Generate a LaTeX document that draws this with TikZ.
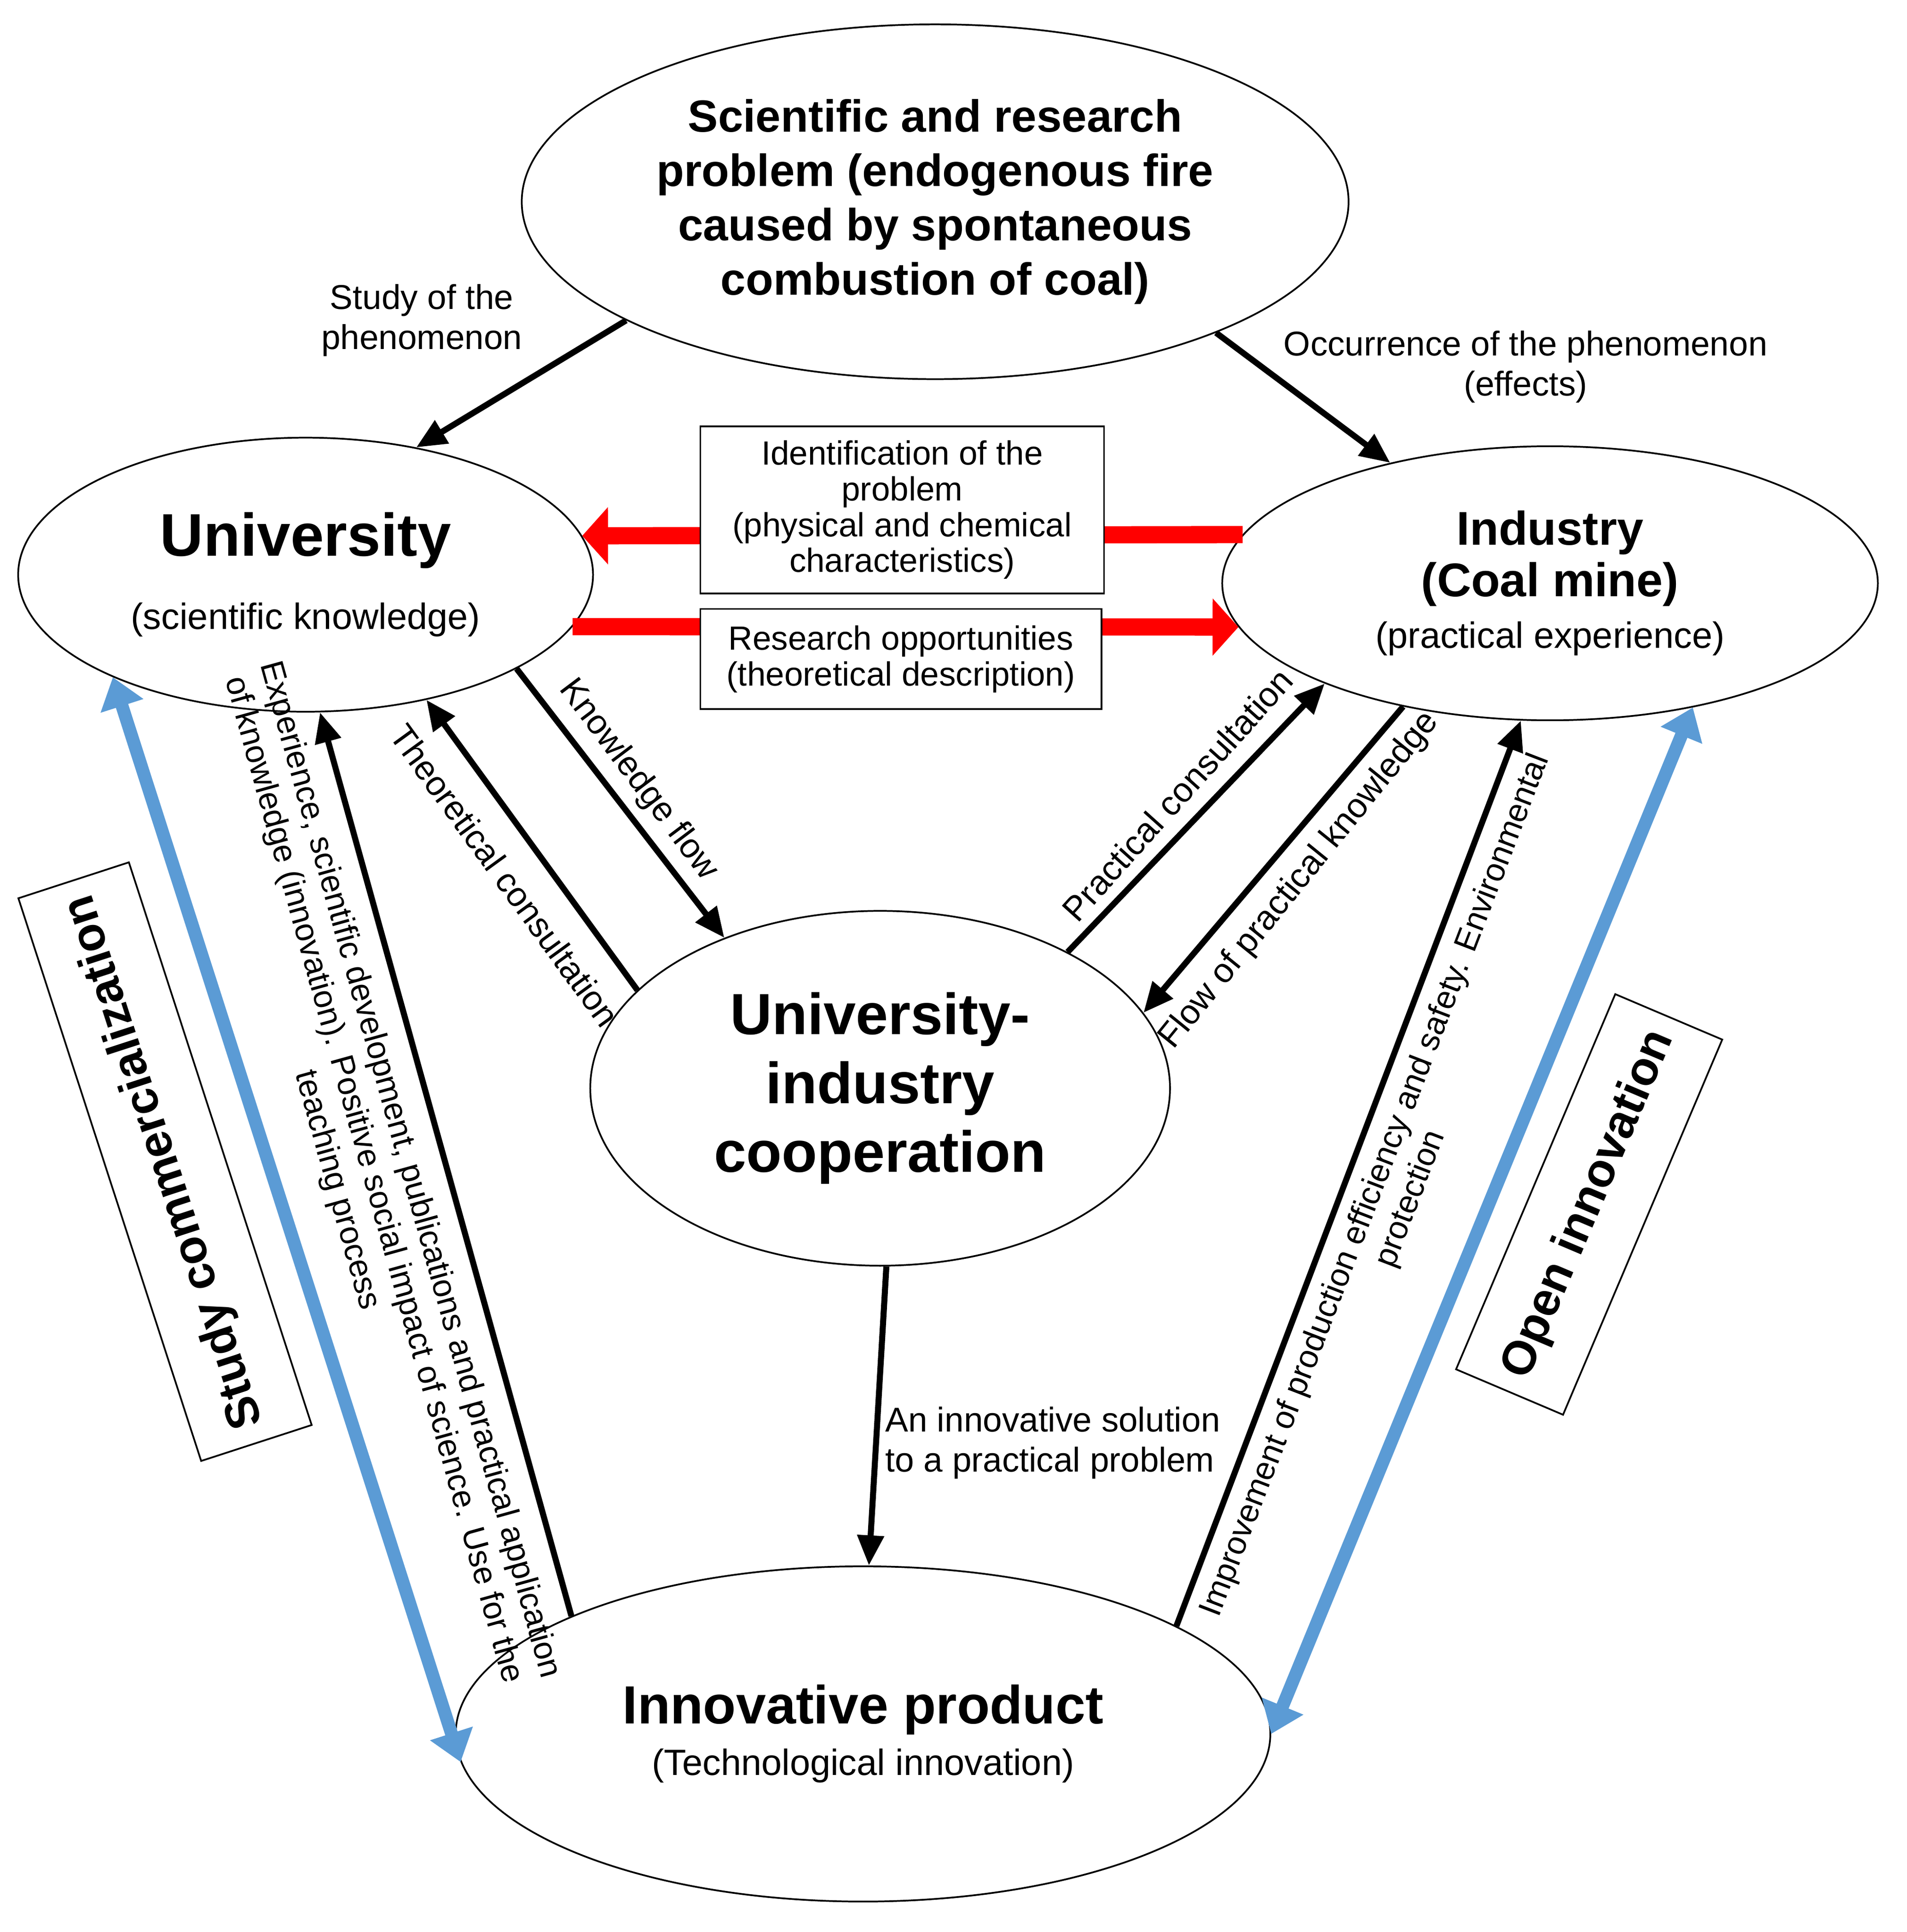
\documentclass[tikz,border=0pt]{standalone}
\usepackage{fontspec}
\setmainfont{Liberation Sans}
\usetikzlibrary{shapes.geometric,arrows.meta}
\definecolor{bluearr}{HTML}{5B9BD5}
\newcommand{\bigb}{\bfseries\fontsize{11}{12.5}\selectfont}
\newcommand{\smalln}{\normalfont\fontsize{8.5}{10}\selectfont}
\begin{document}
\begin{tikzpicture}
	[x=0.01cm, y=-0.01cm,
	oval/.style={ellipse,draw,thin,align=center,inner sep=0pt},
	box/.style={draw,thin,fill=white,align=center,font=\fontsize{7.8}{8.3}\selectfont},
	flow/.style={-{Triangle[length=7pt,width=6pt]},black,line width=1.4pt},
	redflow/.style={-{Triangle[length=6pt,width=13pt]},red,line width=4pt},
	blueflow/.style={{Triangle[length=7pt,width=10pt]}-{Triangle[length=7pt,width=10pt]},bluearr,line width=3pt},
	lbl/.style={font=\fontsize{8}{9.3}\selectfont,align=center}]

	\useasboundingbox (0,0) rectangle (1560,1580);

	% Ellipses
	\node[oval,minimum width=6.76cm,minimum height=2.9cm,font=\bfseries\fontsize{10.5}{12.6}\selectfont] (problem) at (765,165)
		{Scientific and research\\problem (endogenous fire\\caused by spontaneous\\combustion of coal)};
	\node[oval,minimum width=4.7cm,minimum height=2.24cm] (uni) at (250,470)
		{\bfseries\fontsize{14}{16}\selectfont University\\[5pt]\smalln (scientific knowledge)};
	\node[oval,minimum width=5.36cm,minimum height=2.24cm] (ind) at (1268,477)
		{\bigb Industry\\\bigb (Coal mine)\\\smalln (practical experience)};
	\node[oval,minimum width=4.74cm,minimum height=2.9cm,font=\bfseries\fontsize{13.5}{16}\selectfont] (coop) at (720,890)
		{University-\\industry\\cooperation};
	\node[oval,minimum width=6.66cm,minimum height=2.74cm] (prod) at (706,1418)
		{\bfseries\fontsize{12.5}{14}\selectfont Innovative product\\\smalln (Technological innovation)};

	% Red flows behind the boxes
	\draw[redflow] (ind.171) -- (uni.8);
	\draw[redflow] (uni.349) -- (ind.188);
	\node[box,minimum width=3.3cm,minimum height=1.32cm] (ident) at (738,417)
		{Identification of the\\problem\\(physical and chemical\\characteristics)};
	\node[box,minimum width=3.28cm,minimum height=0.82cm] (research) at (737,539)
		{Research opportunities\\(theoretical description)};

	% Black flows
	\draw[flow] (problem.201) -- (uni.49);
	\draw[flow] (problem.335) -- (ind.143);
	\draw[flow] (uni.336) -- (coop.136);
	\draw[flow] (coop.158) -- (uni.314);
	\draw[flow] (coop.36) -- (ind.204);
	\draw[flow] (ind.220) -- (coop.16);
	\draw[flow] (coop.272) -- (prod.88);
	\draw[flow] (prod.158) -- (uni.276);
	\draw[flow] (prod.19) -- (ind.258);

	% Blue flows
	\draw[blueflow] (uni.208) -- (prod.184);
	\draw[blueflow] (ind.319) -- (prod.0);

	% Labels
	\node[lbl] (study) at (345,262) {Study of the\\phenomenon};
	\node[lbl] (occur) at (1248,300) {Occurrence of the phenomenon\\(effects)};
	\node[lbl,rotate=-53] (kflow) at (522,638) {Knowledge flow};
	\node[lbl,rotate=-54] (theo) at (413,716) {Theoretical consultation};
	\node[lbl,rotate=48] (pcons) at (963,650) {Practical consultation};
	\node[lbl,rotate=51] (pflow) at (1063,720) {Flow of practical knowledge};
	\node[lbl,align=left,anchor=west] (solution) at (712,1180) {An innovative solution\\to a practical problem};
	\node[lbl,rotate=-74.5,font=\fontsize{7.6}{8.8}\selectfont] (exper) at (305,965)
		{Experience, scientific development, publications and practical application\\of knowledge (innovation). Positive social impact of science. Use for the\\teaching process};
	\node[lbl,rotate=69,font=\fontsize{7.6}{8.8}\selectfont] (improve) at (1140,975)
		{Improvement of production efficiency and safety. Environmental\\protection};
	\node[draw,thin,rotate=108,inner sep=4pt,minimum height=0.95cm,font=\bfseries\fontsize{11}{13}\selectfont] (comm) at (135,950) {Study commercialization};
	\node[draw,thin,rotate=67,inner sep=4pt,minimum height=0.95cm,font=\bfseries\fontsize{11}{13}\selectfont] (open) at (1300,985) {Open innovation};
\end{tikzpicture}
\end{document}
